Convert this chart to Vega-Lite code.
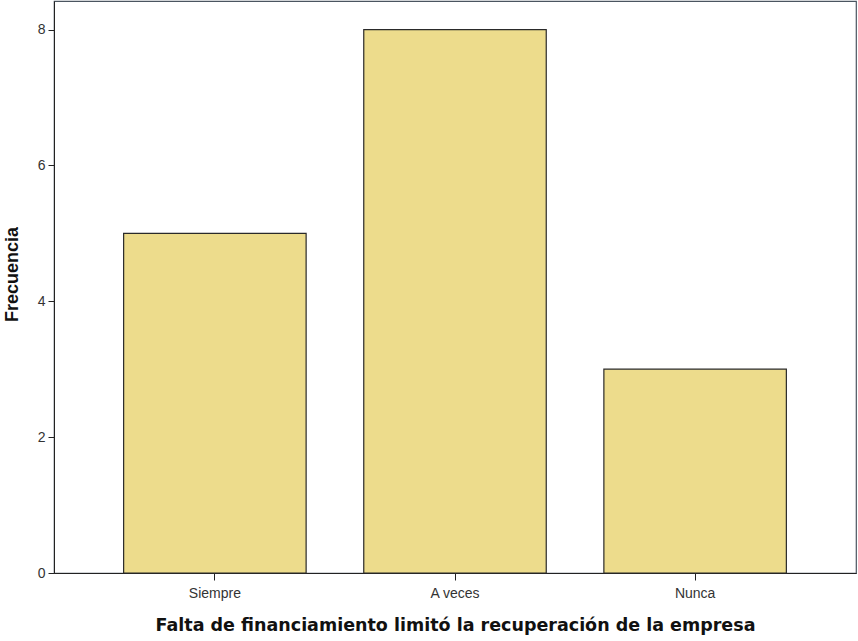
{
  "$schema": "https://vega.github.io/schema/vega-lite/v6.json",
  "autosize": {"type": "none"},
  "width": 802,
  "height": 572,
  "padding": {"left": 54, "top": 1, "right": 2, "bottom": 68},
  "background": "white",
  "data": {
    "values": [
      {"categoria": "Siempre", "frecuencia": 5},
      {"categoria": "A veces", "frecuencia": 8},
      {"categoria": "Nunca", "frecuencia": 3}
    ]
  },
  "mark": {"type": "bar", "fill": "#EDDC8C", "stroke": "#2a2a2a", "strokeWidth": 1.2},
  "encoding": {
    "x": {
      "field": "categoria",
      "type": "nominal",
      "sort": ["Siempre", "A veces", "Nunca"],
      "scale": {"paddingInner": 0.24, "paddingOuter": 0.29},
      "axis": {
        "title": "Falta de financiamiento limitó la recuperación de la empresa",
        "labelAngle": 0,
        "labelFont": "Liberation Sans",
        "labelFontSize": 14,
        "labelColor": "#333",
        "labelPadding": 6,
        "tickSize": 7,
        "tickColor": "#222",
        "domainColor": "#222",
        "titleFont": "DejaVu Sans",
        "titleFontSize": 17.5,
        "titleFontWeight": "bold",
        "titleColor": "#111",
        "titlePadding": 16
      }
    },
    "y": {
      "field": "frecuencia",
      "type": "quantitative",
      "scale": {"domain": [0, 8.42], "nice": false},
      "axis": {
        "title": "Frecuencia",
        "values": [0, 2, 4, 6, 8],
        "grid": false,
        "labelFont": "Liberation Sans",
        "labelFontSize": 14,
        "labelColor": "#333",
        "labelPadding": 3,
        "tickSize": 6,
        "tickColor": "#222",
        "domainColor": "#222",
        "titleFont": "Liberation Sans",
        "titleFontSize": 18,
        "titleFontWeight": "bold",
        "titleColor": "#111",
        "titlePadding": 16,
        "titleY": 273
      }
    }
  },
  "config": {
    "view": {"stroke": "#4a5560", "strokeWidth": 1.2}
  }
}
